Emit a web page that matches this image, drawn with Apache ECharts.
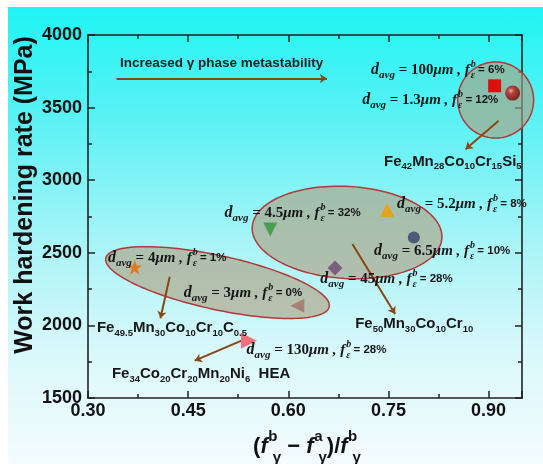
<!DOCTYPE html>
<html><head><meta charset="utf-8">
<script src="https://cdn.jsdelivr.net/npm/echarts@6/dist/echarts.min.js"></script>
<style>
html,body{margin:0;padding:0;background:#fff;}
#wrap{position:relative;width:543px;height:464px;overflow:hidden;background:#fff;}
#bg{position:absolute;left:8px;top:7px;right:0;bottom:0;background:linear-gradient(to bottom,#1ff4f4 0%,#5cf2f5 25%,#a4f4f7 50%,#d8f8fb 75%,#f4fcfe 100%);}
#chart{position:absolute;left:0;top:0;width:543px;height:464px;}
</style></head><body>
<div id="wrap"><div id="bg"></div><div id="chart"></div></div>
<script>
// ---------- data ----------
const xTickLabels = ['0.30','0.45','0.60','0.75','0.90'];
const yTickLabels = ['1500','2000','2500','3000','3500','4000'];

const starPts     = [[0.370, 2400]];   // Fe49.5Mn30Co10Cr10C0.5, 4 um
const leftTriPts  = [[0.6135, 2135]];  // 3 um
const downTriPts  = [[0.573, 2660]];   // 4.5 um
const diamondPts  = [[0.670, 2395]];   // 45 um
const upTriPts    = [[0.748, 2795]];   // 5.2 um
const circlePts   = [[0.788, 2605]];   // 6.5 um
const squarePts   = [[0.909, 3650]];   // 100 um
const spherePts   = [[0.936, 3600]];   // 1.3 um
const heaPts      = [[0.541, 1895]];   // HEA 130 um

// ellipses: centre x, centre y, major-axis end x, end y, minor semi-axis (MPa)
const ellipseData = [
  [0.494, 2295, 0.6613, 2127, 186],
  [0.688, 2640, 0.830, 2602, 317],
  [0.9106, 3552, 0.9674, 3552, 262]
];

// arrows: [from, to]
const arrowData = [
  [[0.3428, 3700], [0.6578, 3700]],
  [[0.915, 3410], [0.8654, 3213]],
  [[0.696, 2561], [0.760, 2079]],
  [[0.4224, 2335], [0.4085, 2049]],
  [[0.5344, 1904], [0.4598, 1757]]
];

// grain-size annotations
const grainSizes   = ['100', '1.3', '4.5', '5.2', '6.5', '45', '4', '3', '130'];
const epsFractions = ['6%', '12%', '32%', '8%', '10%', '28%', '1%', '0%', '28%'];
const grainX = [0.724, 0.7106, 0.5045, 0.7628, 0.7285, 0.6479, 0.3299, 0.4433, 0.5374];
const grainY = [3757, 3552, 2774, 2836, 2512, 2320, 2464, 2223, 1831];

// alloy annotations
const alloyText = [
  '{ch|Fe}{chs|42}{ch|Mn}{chs|28}{ch|Co}{chs|10}{ch|Cr}{chs|15}{ch|Si}{chs|5}',
  '{ch|Fe}{chs|50}{ch|Mn}{chs|30}{ch|Co}{chs|10}{ch|Cr}{chs|10}',
  '{ch|Fe}{chs|49.5}{ch|Mn}{chs|30}{ch|Co}{chs|10}{ch|Cr}{chs|10}{ch|C}{chs|0.5}',
  '{ch|Fe}{chs|34}{ch|Co}{chs|20}{ch|Cr}{chs|20}{ch|Mn}{chs|20}{ch|Ni}{chs|6}{ch|  HEA}'
];
const alloyX = [0.7434, 0.7001, 0.3134, 0.3358];
const alloyY = [3127, 2010, 1982, 1665];

const trendText = 'Increased γ phase metastability';
const trendPos = [0.3478, 3807];

// ---------- helpers ----------
function grainLabel(size, frac) {
  return '{dd|d}{sub|avg}{num| = ' + size + '}{it|μm , f}{sup|b}{sb|ε}{pct| = ' + frac + '}';
}
const serif = 'Liberation Serif';
const sans = 'Liberation Sans';
const txtCol = '#161616';
const richStyles = {
  dd:  {fontFamily: serif, fontWeight: 'bold', fontStyle: 'italic', fontSize: 16, lineHeight: 21, fill: txtCol},
  sub: {fontFamily: serif, fontWeight: 'bold', fontStyle: 'italic', fontSize: 11, lineHeight: 21, verticalAlign: 'bottom', fill: txtCol},
  num: {fontFamily: serif, fontWeight: 'bold', fontSize: 15, lineHeight: 21, fill: txtCol},
  it:  {fontFamily: serif, fontWeight: 'bold', fontStyle: 'italic', fontSize: 15, lineHeight: 21, fill: txtCol, padding: [0, 1, 0, 0]},
  sup: {fontFamily: serif, fontWeight: 'bold', fontStyle: 'italic', fontSize: 10, lineHeight: 21, verticalAlign: 'top', width: 0, fill: txtCol},
  sb:  {fontFamily: serif, fontWeight: 'bold', fontStyle: 'italic', fontSize: 10, lineHeight: 21, verticalAlign: 'bottom', fill: txtCol},
  pct: {fontFamily: sans, fontWeight: 'bold', fontSize: 11.5, lineHeight: 21, fill: txtCol},
  ch:  {fontFamily: sans, fontWeight: 'bold', fontSize: 15, lineHeight: 20, fill: txtCol},
  chs: {fontFamily: sans, fontWeight: 'bold', fontSize: 9.5, lineHeight: 20, verticalAlign: 'bottom', fill: txtCol},
  tr:  {fontFamily: sans, fontWeight: 'bold', fontSize: 13.5, lineHeight: 18, fill: '#222'}
};

const labelTexts = [];
const labelPos = [];
grainSizes.forEach((s, i) => { labelTexts.push(grainLabel(s, epsFractions[i])); labelPos.push([grainX[i], grainY[i]]); });
alloyText.forEach((t, i) => { labelTexts.push(t); labelPos.push([alloyX[i], alloyY[i]]); });
labelTexts.push('{tr|' + trendText + '}'); labelPos.push(trendPos);

function pointSeries(data, symbol, size, color, rotate) {
  return {type: 'scatter', data: data, symbol: symbol, symbolSize: size, symbolRotate: rotate || 0,
    itemStyle: {color: color, opacity: 1}, z: 5, silent: true};
}

const axisCol = '#222';
function xAx(pos, showLabel) {
  return {type: 'value', position: pos, min: 0.30, max: 0.95, interval: 0.15,
    axisLine: {show: true, onZero: false, lineStyle: {color: axisCol, width: 1.6}},
    axisTick: {show: true, inside: true, length: 7, lineStyle: {color: axisCol, width: 1.5}},
    minorTick: {show: true, splitNumber: 2, length: 4, lineStyle: {color: axisCol, width: 1.5}},
    splitLine: {show: false},
    axisLabel: {show: showLabel, margin: 4, fontSize: 18, fontWeight: 'bold', fontFamily: sans, color: '#111',
      showMaxLabel: false, formatter: v => v.toFixed(2)}};
}
function yAx(pos, showLabel) {
  return {type: 'value', position: pos, min: 1500, max: 4000, interval: 500,
    axisLine: {show: true, onZero: false, lineStyle: {color: axisCol, width: 1.6}},
    axisTick: {show: true, inside: true, length: 7, lineStyle: {color: axisCol, width: 1.5}},
    minorTick: {show: true, splitNumber: 2, length: 4, lineStyle: {color: axisCol, width: 1.5}},
    splitLine: {show: false},
    axisLabel: {show: showLabel, margin: 6, fontSize: 18, fontWeight: 'bold', fontFamily: sans, color: '#111',
      formatter: v => String(Math.round(v))}};
}

const chart = echarts.init(document.getElementById('chart'), null, {renderer: 'canvas'});
chart.setOption({
  backgroundColor: 'transparent',
  animation: false,
  grid: {left: 88, right: 21, top: 35, bottom: 66},
  xAxis: [xAx('bottom', true), xAx('top', false)],
  yAxis: [yAx('left', true), yAx('right', false)],
  graphic: [
    {type: 'text', x: 25, y: 195, rotation: Math.PI / 2,
      style: {text: 'Work hardening rate (MPa)', fontSize: 25, fontWeight: 'bold', fontFamily: sans, fill: '#111',
        align: 'center', verticalAlign: 'middle'}},
    {type: 'text', x: 307, y: 447,
      style: {text: '{p|(}{f|f}{sp|b}{sg|γ}{p| − }{f|f}{sp|a}{sg|γ}{p|)/}{f|f}{sp|b}{sg|γ}',
        align: 'center', verticalAlign: 'middle',
        rich: {
          p: {fontSize: 22, fontWeight: 'bold', fontFamily: sans, fill: '#111', lineHeight: 36},
          f: {fontSize: 22, fontWeight: 'bold', fontStyle: 'italic', fontFamily: sans, fill: '#111', lineHeight: 36, padding: [0, 5, 0, 0]},
          sp: {fontSize: 15, fontWeight: 'bold', fontFamily: sans, fill: '#111', lineHeight: 36, verticalAlign: 'top', width: 0},
          sg: {fontSize: 15, fontWeight: 'bold', fontFamily: sans, fill: '#111', lineHeight: 36, verticalAlign: 'bottom'}
        }}}
  ],
  series: [
    {type: 'custom', coordinateSystem: 'cartesian2d', clip: false, z: 1, silent: true,
      data: ellipseData,
      renderItem: function (params, api) {
        const c = api.coord([api.value(0), api.value(1)]);
        const e = api.coord([api.value(2), api.value(3)]);
        const b = api.size([0, api.value(4)])[1];
        const dx = e[0] - c[0], dy = e[1] - c[1];
        const a = Math.hypot(dx, dy), th = Math.atan2(dy, dx);
        const pts = [];
        for (let k = 0; k < 120; k++) {
          const t = k / 120 * 2 * Math.PI;
          const x = a * Math.cos(t), y = b * Math.sin(t);
          pts.push([c[0] + x * Math.cos(th) - y * Math.sin(th), c[1] + x * Math.sin(th) + y * Math.cos(th)]);
        }
        return {type: 'polygon', shape: {points: pts},
          style: {fill: 'rgba(175,158,128,0.62)', stroke: '#b03a3a', lineWidth: 1.5}};
      }},
    {type: 'lines', coordinateSystem: 'cartesian2d', z: 4, silent: true,
      data: arrowData.map(c => ({coords: c})),
      symbol: ['none', 'arrow'], symbolSize: 7,
      lineStyle: {color: '#8a4612', width: 2, opacity: 1, curveness: 0}},
    pointSeries(starPts, 'path://M50,0 L61.8,35.4 L100,35.4 L69.1,57.3 L80.9,92.7 L50,70.8 L19.1,92.7 L30.9,57.3 L0,35.4 L38.2,35.4 Z', 15, '#e07a1c'),
    pointSeries(leftTriPts, 'triangle', 14, '#a48278', 90),
    pointSeries(downTriPts, 'triangle', 14, '#47a04f', 180),
    pointSeries(diamondPts, 'diamond', 15, '#7a5f80'),
    pointSeries(upTriPts, 'triangle', 14, '#e8a21c'),
    pointSeries(circlePts, 'circle', 12, '#4b5a78'),
    pointSeries(squarePts, 'rect', 13, '#dd1010'),
    {type: 'scatter', data: spherePts, symbol: 'circle', symbolSize: 15, z: 5, silent: true,
      itemStyle: {color: {type: 'radial', x: 0.38, y: 0.35, r: 0.7,
        colorStops: [{offset: 0, color: '#f4b0a8'}, {offset: 0.3, color: '#c42020'}, {offset: 1, color: '#680000'}]}}},
    pointSeries(heaPts, 'triangle', 16, '#f2707e', -90),
    {type: 'custom', coordinateSystem: 'cartesian2d', clip: false, z: 6, silent: true,
      data: labelPos,
      renderItem: function (params, api) {
        const p = api.coord([api.value(0), api.value(1)]);
        return {type: 'text', x: p[0], y: p[1],
          style: {text: labelTexts[params.dataIndex], rich: richStyles, align: 'left', verticalAlign: 'middle'}};
      }}
  ]
});
</script>
</body></html>
